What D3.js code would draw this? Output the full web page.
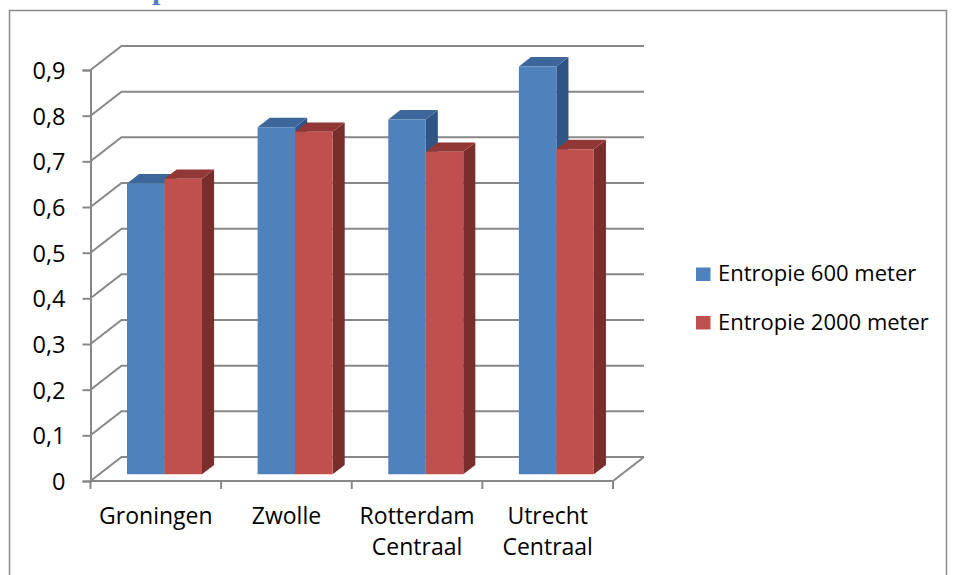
<!DOCTYPE html>
<html>
<head>
<meta charset="utf-8">
<script src="https://cdn.jsdelivr.net/npm/d3@7"></script>
<style>
  html, body { margin: 0; padding: 0; background: #fff; }
  svg { display: block; }
  text { font-family: "Open Sans", "Noto Sans", sans-serif; fill: #000; }
</style>
</head>
<body>
<svg id="chart" width="956" height="575"></svg>
<script>
// Station names along the category axis
const categories = ["Groningen", "Zwolle", "Rotterdam Centraal", "Utrecht Centraal"];
// Series names for the legend
const seriesNames = ["Entropie 600 meter", "Entropie 2000 meter"];
// Entropy values per station
const entropie600 = [0.637, 0.760, 0.777, 0.893];
const entropie2000 = [0.647, 0.750, 0.706, 0.712];
// Value axis ticks
const yTicks = [0, 0.1, 0.2, 0.3, 0.4, 0.5, 0.6, 0.7, 0.8, 0.9];

const seriesValues = [entropie600, entropie2000];
const faceColors = [
  { front: "#4F81BD", top: "#3D679B", side: "#2F5584" },
  { front: "#C0504D", top: "#913836", side: "#7A2E2C" }
];
const gridColor = "#888888";

const svg = d3.select("#chart");

// Front-plane scales
const x = d3.scaleBand().domain(categories).range([90.5, 613]).paddingInner(0).paddingOuter(0);
const y = d3.scaleLinear().domain([0, 0.9]).range([481, 70]);

// Oblique depth offset of the back wall
const DX = 31, DY = 24;
const P = (px, v, z) => [px + z * DX, y(v) - z * DY];

// Outer frame
svg.append("rect")
  .attr("x", 9.5).attr("y", 10.5)
  .attr("width", 937).attr("height", 600)
  .attr("fill", "none").attr("stroke", "#8a8a8a").attr("stroke-width", 1.5);

// Heading fragment above the frame
svg.append("text")
  .attr("x", 152).attr("y", -1)
  .style("font-family", "'Liberation Serif', 'DejaVu Serif', serif")
  .style("font-weight", "bold").style("font-size", "30px")
  .style("fill", "#4F81BD")
  .text("p");

const x0 = x.range()[0], x1 = x.range()[1];

// Side wall and back wall gridlines
const grid = svg.append("g").attr("fill", "none").attr("stroke", gridColor).attr("stroke-width", 2);
yTicks.forEach(t => {
  const a = P(x0, t, 0), b = P(x0, t, 1), c = P(x1, t, 1);
  grid.append("path").attr("d", `M${a}L${b}L${c}`);
});

// Floor front edge and right edge
const f0 = P(x0, 0, 0), f1 = P(x1, 0, 0), f2 = P(x1, 0, 1);
grid.append("path").attr("d", `M${f0}L${f1}L${f2}`);

// Value axis
const yAxis = d3.axisLeft(y)
  .tickValues(yTicks)
  .tickSize(8)
  .tickPadding(17)
  .tickFormat(d => d3.format(".1~f")(d).replace(".", ","));
const yg = svg.append("g").attr("transform", `translate(${x0},0)`).call(yAxis);
yg.select(".domain").attr("stroke", gridColor).attr("stroke-width", 2);
yg.selectAll(".tick line").attr("stroke", gridColor).attr("stroke-width", 2);
yg.selectAll(".tick text")
  .style("font-size", "23.5px")
  .style("font-family", "'Open Sans', sans-serif")
  .attr("dy", "0.36em");

// Category axis ticks at band boundaries
const boundaries = d3.range(categories.length + 1).map(i => x0 + i * x.step());
svg.append("g").selectAll("line").data(boundaries).join("line")
  .attr("x1", d => d).attr("x2", d => d)
  .attr("y1", y(0)).attr("y2", y(0) + 8)
  .attr("stroke", gridColor).attr("stroke-width", 2);

// Category labels, wrapped on spaces
const lab = svg.append("g").selectAll("text").data(categories).join("text")
  .attr("x", d => x(d) + x.bandwidth() / 2)
  .attr("y", 523.5)
  .attr("text-anchor", "middle")
  .style("font-size", "23px");
lab.each(function(d) {
  const words = d.split(" ");
  d3.select(this).selectAll("tspan").data(words).join("tspan")
    .attr("x", x(d) + x.bandwidth() / 2)
    .attr("dy", (w, i) => i === 0 ? 0 : 31.5)
    .text(w => w);
});

// 3D columns
const z0 = 0.28, z1 = 0.67;
const bw = x.bandwidth() * 0.287;
const bars = svg.append("g");
categories.forEach((cat, i) => {
  seriesValues.forEach((vals, s) => {
    const v = vals[i];
    const left = x(cat) + x.bandwidth() / 2 - bw + s * bw;
    const right = left + bw;
    const col = faceColors[s];
    const g = bars.append("g");
    const front = [P(left, 0, z0), P(right, 0, z0), P(right, v, z0), P(left, v, z0)];
    const top = [P(left, v, z0), P(right, v, z0), P(right, v, z1), P(left, v, z1)];
    const side = [P(right, 0, z0), P(right, v, z0), P(right, v, z1), P(right, 0, z1)];
    g.append("polygon").attr("points", side.join(" ")).attr("fill", col.side);
    g.append("polygon").attr("points", top.join(" ")).attr("fill", col.top);
    g.append("polygon").attr("points", front.join(" ")).attr("fill", col.front);
  });
});

// Legend
const legend = svg.append("g");
const legendBaselines = [281, 329.5];
seriesNames.forEach((name, s) => {
  legend.append("rect")
    .attr("x", 696).attr("y", legendBaselines[s] - 13.5)
    .attr("width", 14.5).attr("height", 13.5)
    .attr("fill", faceColors[s].front);
  legend.append("text")
    .attr("x", 718).attr("y", legendBaselines[s])
    .style("font-size", "22px")
    .text(name);
});
</script>
</body>
</html>
